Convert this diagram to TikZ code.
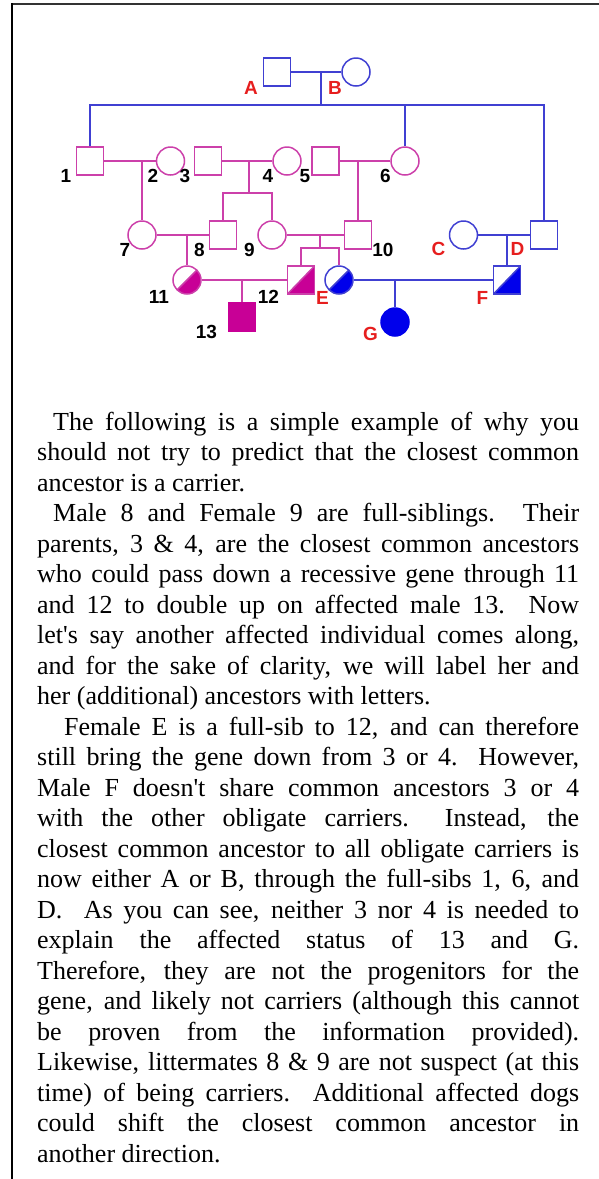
\documentclass[tikz,border=0pt]{standalone}
\usepackage{fontspec}
\setmainfont{Liberation Serif}
\newfontfamily\labfont{Liberation Sans}
\definecolor{pbl}{RGB}{64,64,210}
\definecolor{pmg}{RGB}{204,64,170}
\definecolor{fbl}{RGB}{0,0,235}
\definecolor{fmg}{RGB}{200,0,150}
\definecolor{lred}{RGB}{230,30,30}
\definecolor{frm}{RGB}{50,50,50}
\begin{document}
\begin{tikzpicture}[x=1pt,y=-1pt,
  male/.style={draw, rectangle, minimum width=27pt, minimum height=28pt, inner sep=0pt, line width=1.5pt},
  female/.style={draw, circle, minimum size=28pt, inner sep=0pt, line width=1.5pt},
  blk/.style={draw=pbl},
  mgk/.style={draw=pmg},
  halfmg/.style={path picture={
      \fill[fmg] (path picture bounding box.south west) -- (path picture bounding box.north east) -- (path picture bounding box.south east) -- cycle;
      \draw[pmg, line width=1.5pt] (path picture bounding box.south west) -- (path picture bounding box.north east);}},
  halfbl/.style={path picture={
      \fill[fbl] (path picture bounding box.south west) -- (path picture bounding box.north east) -- (path picture bounding box.south east) -- cycle;
      \draw[pbl, line width=1.5pt] (path picture bounding box.south west) -- (path picture bounding box.north east);}},
  bl/.style={draw=pbl, line width=1.5pt},
  mg/.style={draw=pmg, line width=1.5pt},
  lab/.style={font=\labfont\bfseries\fontsize{19}{19}\selectfont, inner sep=0pt, text=black},
  rlab/.style={lab, text=lred}
]
\useasboundingbox (0,0) rectangle (599,1179);
% frame
\draw[frm, line width=2pt] (11,3.5) -- (599,3.5);
\draw[black, line width=2pt] (12,3) -- (12,1179);

% individuals
\node[male, blk] (nA) at (277,72) {};
\node[female, blk] (nB) at (356,72) {};
\node[male, mgk] (n1) at (90,161) {};
\node[female, mgk] (n2) at (170.5,161) {};
\node[male, mgk] (n3) at (208,161) {};
\node[female, mgk] (n4) at (287,161) {};
\node[male, mgk] (n5) at (325.5,161) {};
\node[female, mgk] (n6) at (405,161) {};
\node[female, mgk] (n7) at (142,235) {};
\node[male, mgk] (n8) at (223,235) {};
\node[female, mgk] (n9) at (272,235) {};
\node[male, mgk] (n10) at (358,235) {};
\node[female, blk] (nC) at (463.5,235) {};
\node[male, blk] (nD) at (544,235) {};
\node[female, mgk, halfmg] (n11) at (187,280) {};
\node[male, mgk, halfmg] (n12) at (301,280) {};
\node[female, blk, halfbl] (nE) at (339,280) {};
\node[male, blk, halfbl] (nF) at (507,280) {};
\node[male, draw=fmg, fill=fmg] (n13) at (242,317) {};
\node[female, draw=fbl, fill=fbl] (nG) at (395,322) {};

% junction points
\coordinate (mAB) at (321,72);
\coordinate (sAB) at (321,105);
\coordinate (s6) at (405,105);
\coordinate (m12) at (142,161);
\coordinate (m34) at (249,161);
\coordinate (s34) at (249,193);
\coordinate (m56) at (358,161);
\coordinate (m78) at (187,235);
\coordinate (m910) at (320,235);
\coordinate (s910) at (320,248);
\coordinate (m1112) at (242,280);
\coordinate (mCD) at (507,235);
\coordinate (mEF) at (395,280);

% connectors
\draw[bl] (nA) -- (nB);
\draw[bl] (mAB) -- (sAB);
\draw[bl] (n1) |- (sAB) -| (nD);
\draw[bl] (s6) -- (n6);
\draw[mg] (n1) -- (n2);
\draw[mg] (m12) -- (n7);
\draw[mg] (n3) -- (n4);
\draw[mg] (m34) -- (s34);
\draw[mg] (n8) |- (s34) -| (n9);
\draw[mg] (n5) -- (n6);
\draw[mg] (m56) -- (n10);
\draw[mg] (n7) -- (n8);
\draw[mg] (m78) -- (n11);
\draw[mg] (n9) -- (n10);
\draw[mg] (m910) -- (s910);
\draw[mg] (n12) |- (s910) -| (nE);
\draw[mg] (n11) -- (n12);
\draw[mg] (m1112) -- (n13);
\draw[bl] (nC) -- (nD);
\draw[bl] (mCD) -- (nF);
\draw[bl] (nE) -- (nF);
\draw[bl] (mEF) -- (nG);

% labels
\node[rlab] (lA) at (251,88) {A};
\node[rlab] (lB) at (335,88) {B};
\node[lab] (l1) at (66,176) {1};
\node[lab] (l2) at (153,176) {2};
\node[lab] (l3) at (185,176) {3};
\node[lab] (l4) at (268,176) {4};
\node[lab] (l5) at (305,176) {5};
\node[lab] (l6) at (385.5,176) {6};
\node[lab] (l7) at (125,250) {7};
\node[lab] (l8) at (199.5,250) {8};
\node[lab] (l9) at (249.5,250) {9};
\node[lab] (l10) at (383,250) {10};
\node[rlab] (lC) at (438.5,249) {C};
\node[rlab] (lD) at (517.5,249) {D};
\node[lab] (l11) at (159,297) {11};
\node[lab] (l12) at (268.5,297) {12};
\node[rlab] (lE) at (322.5,298) {E};
\node[rlab] (lF) at (482.5,298) {F};
\node[lab] (l13) at (206.5,332) {13};
\node[rlab] (lG) at (370.5,334) {G};

% body text
\node[anchor=base west, inner sep=0pt] (txt) at (37,430) {\parbox[t]{542pt}{%
\fontsize{26}{30.5}\selectfont\parindent=0pt\tolerance=10000\hbadness=10000\hyphenpenalty=10000\exhyphenpenalty=10000%
\hspace*{16pt}The following is a simple example of why you\linebreak
should not try to predict that the closest common\linebreak
ancestor is a carrier.\par
\hspace*{16pt}Male 8 and Female 9 are full-siblings.\ \ Their\linebreak
parents, 3 \& 4, are the closest common ancestors\linebreak
who could pass down a recessive gene through 11\linebreak
and 12 to double up on affected male 13.\ \ Now\linebreak
let\textquotesingle s say another affected individual comes along,\linebreak
and for the sake of clarity, we will label her and\linebreak
her (additional) ancestors with letters.\par
\hspace*{27pt}Female E is a full-sib to 12, and can therefore\linebreak
still bring the gene down from 3 or 4.\ \ However,\linebreak
Male F doesn\textquotesingle t share common ancestors 3 or 4\linebreak
with the other obligate carriers.\ \ Instead, the\linebreak
closest common ancestor to all obligate carriers is\linebreak
now either A or B, through the full-sibs 1, 6, and\linebreak
D.\ \ As you can see, neither 3 nor 4 is needed to\linebreak
explain the affected status of 13 and G.\linebreak
Therefore, they are not the progenitors for the\linebreak
gene, and likely not carriers (although this cannot\linebreak
be proven from the information provided).\linebreak
Likewise, littermates 8 \& 9 are not suspect (at this\linebreak
time) of being carriers.\ \ Additional affected dogs\linebreak
could shift the closest common ancestor in\linebreak
another direction.\par}};
\end{tikzpicture}
\end{document}
